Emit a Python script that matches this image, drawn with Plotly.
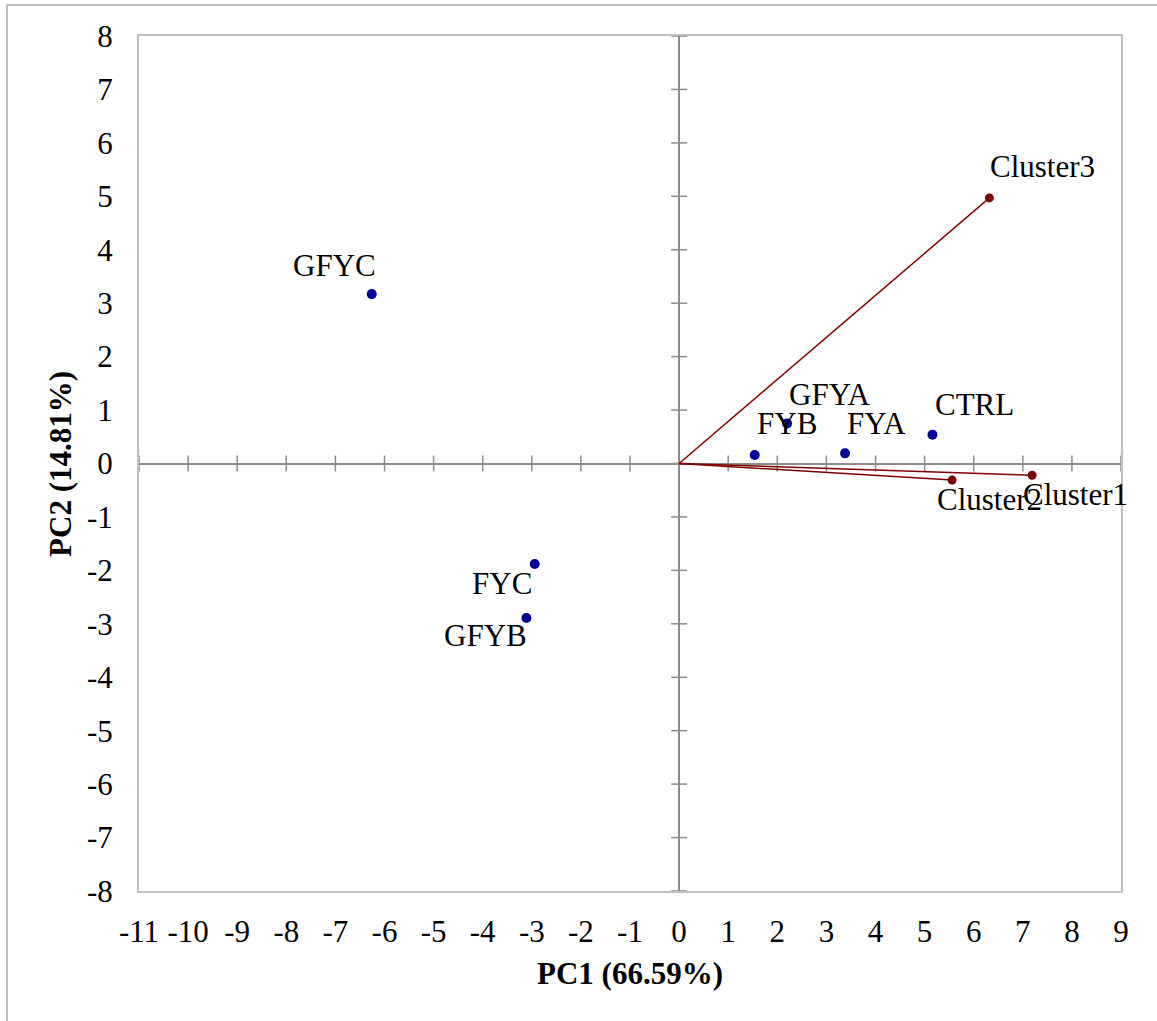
import plotly.graph_objects as go

# PCA biplot: treatment scores (blue) and cluster loadings (dark red vectors)
treatments = ["GFYC", "FYC", "GFYB", "FYB", "GFYA", "FYA", "CTRL"]
treat_pc1 = [-6.26, -2.94, -3.11, 1.54, 2.20, 3.38, 5.16]
treat_pc2 = [3.17, -1.88, -2.89, 0.16, 0.75, 0.19, 0.54]

clusters = ["Cluster1", "Cluster2", "Cluster3"]
clus_pc1 = [7.19, 5.56, 6.32]
clus_pc2 = [-0.22, -0.31, 4.97]

x_ticks = list(range(-11, 10))
y_ticks = list(range(-8, 9))
x_tick_text = [str(v) for v in x_ticks]   # plain hyphen for negatives
y_tick_text = [str(v) for v in y_ticks]

FONT = "Liberation Serif, Times New Roman, serif"
BLUE = "#00009a"
RED = "#7f0000"
AXIS_GREY = "#8c8c8c"
FRAME_GREY = "#bfbfbf"

fig = go.Figure()

# loading vectors from the origin
vx, vy = [], []
for cx, cy in zip(clus_pc1, clus_pc2):
    vx += [0, cx, None]
    vy += [0, cy, None]
fig.add_trace(go.Scatter(x=vx, y=vy, mode="lines",
                         line=dict(color=RED, width=1.5), hoverinfo="skip"))
fig.add_trace(go.Scatter(x=clus_pc1, y=clus_pc2, mode="markers", text=clusters,
                         marker=dict(color=RED, size=9)))
fig.add_trace(go.Scatter(x=treat_pc1, y=treat_pc2, mode="markers", text=treatments,
                         marker=dict(color=BLUE, size=10)))

# point labels with pixel offsets from each point
label_offsets = {
    "GFYC": (-37, -29), "FYC": (-33, 20), "GFYB": (-41, 18),
    "FYB": (32, -31), "GFYA": (43, -29), "FYA": (31, -30), "CTRL": (42, -30),
    "Cluster1": (43, 19), "Cluster2": (37, 19), "Cluster3": (53, -31),
}
for names, xs, ys in [(treatments, treat_pc1, treat_pc2), (clusters, clus_pc1, clus_pc2)]:
    for n, px, py in zip(names, xs, ys):
        dx, dy = label_offsets[n]
        fig.add_annotation(x=px, y=py, text=n, showarrow=False,
                           xshift=dx, yshift=-dy,
                           font=dict(family=FONT, size=31, color="black"))

# tick marks crossing the zero axes
for t in x_ticks:
    fig.add_shape(type="line", xref="x", yref="y", x0=t, x1=t,
                  ysizemode="pixel", yanchor=0, y0=-8, y1=8,
                  line=dict(color=AXIS_GREY, width=1.5), layer="below")
for t in y_ticks:
    fig.add_shape(type="line", xref="x", yref="y", y0=t, y1=t,
                  xsizemode="pixel", xanchor=0, x0=-8, x1=8,
                  line=dict(color=AXIS_GREY, width=1.5), layer="below")

# outer chart-area border
fig.add_shape(type="rect", xref="paper", yref="paper",
              x0=-0.1344, x1=1.2, y0=-0.3, y1=1.0363,
              line=dict(color=FRAME_GREY, width=2), fillcolor="rgba(0,0,0,0)")

axis_common = dict(showgrid=False, zeroline=True, zerolinecolor=AXIS_GREY,
                   zerolinewidth=2, showline=True, mirror=True,
                   linecolor=FRAME_GREY, linewidth=2, ticks="", tickangle=0,
                   tickfont=dict(family=FONT, size=31, color="black"))

fig.update_xaxes(range=[-11, 9], tickvals=x_ticks, ticktext=x_tick_text,
                 ticklabelstandoff=12, **axis_common)
fig.update_yaxes(range=[-8, 8], tickvals=y_ticks, ticktext=y_tick_text,
                 ticklabelstandoff=18, **axis_common)

fig.add_annotation(xref="paper", yref="paper", x=0.5, y=-0.096, yanchor="middle",
                   text="<b>PC1 (66.59%)</b>", showarrow=False,
                   font=dict(family=FONT, size=31, color="black"))
fig.add_annotation(xref="paper", yref="paper", x=-0.080, y=0.5, xanchor="center",
                   text="<b>PC2 (14.81%)</b>", showarrow=False, textangle=-90,
                   font=dict(family=FONT, size=31, color="black"))

fig.update_layout(width=1157, height=1021, showlegend=False,
                  margin=dict(l=139, r=36, t=36, b=130),
                  plot_bgcolor="white", paper_bgcolor="white",
                  font=dict(family=FONT))

fig.write_html("out.html")
